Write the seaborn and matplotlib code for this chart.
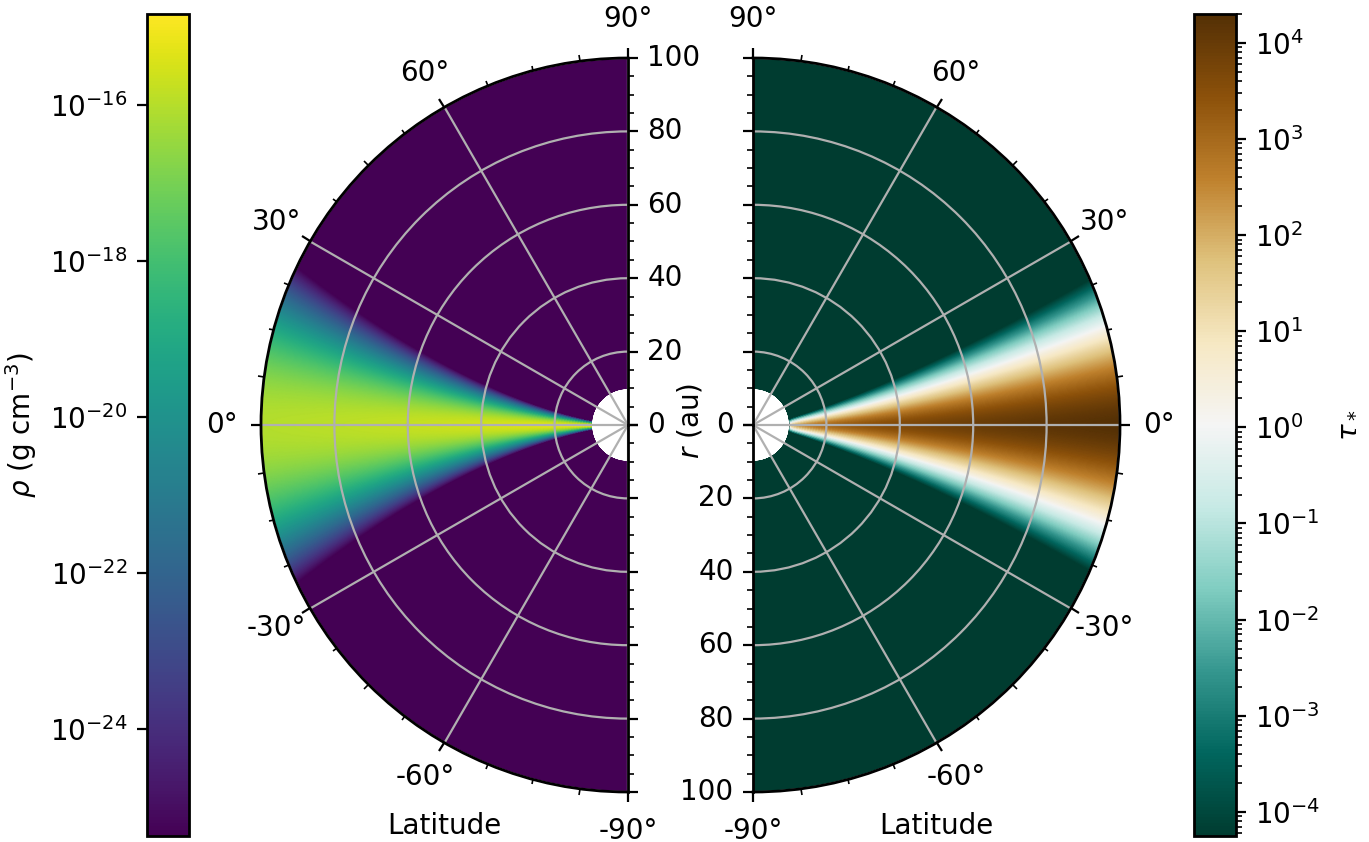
import numpy as np
import matplotlib
matplotlib.use("Agg")
import matplotlib.pyplot as plt
import seaborn as sns
from matplotlib.colors import LogNorm
from matplotlib.ticker import MultipleLocator

# ---------------- data ----------------
r_inner_au = 10.0
r_outer_au = 100.0
radial_ticks_au = [0, 20, 40, 60, 80, 100]
latitude_ticks_deg = [-90, -60, -30, 0, 30, 60, 90]

# density model (left panel)
rho_mid_100au = 9.3e-17        # g cm^-3, midplane density at 100 au
rho_radial_index = 1.2         # rho_mid ~ r^-index
aspect_ratio_100au = 0.073     # H/R at 100 au
flaring_index = 0.6            # H/R ~ r^flaring
rho_floor = 4.3e-26            # background density

# optical depth model (right panel)
tau_mid_100au = 2.0e4
tau_radial_index = 1.4
tau_width_100au = 0.1135
tau_width_index = 0.25
tau_profile_power = 1.6
tau_floor = 5.6e-5

radius_grid_au = np.linspace(r_inner_au, r_outer_au, 451)
latitude_grid_deg = np.linspace(-90, 90, 1441)

# ---------------- fields ----------------
LAT, R = np.meshgrid(latitude_grid_deg, radius_grid_au)
tan_lat = np.tan(np.deg2rad(np.clip(np.abs(LAT), 0, 89.0)))

h = aspect_ratio_100au * (R / r_outer_au) ** flaring_index
log_rho = (np.log10(rho_mid_100au) - rho_radial_index * np.log10(R / r_outer_au)
           - tan_lat ** 2 / (2 * h ** 2 * np.log(10)))
rho = np.maximum(10 ** log_rho, rho_floor)

with np.errstate(divide="ignore"):
    w = tau_width_100au * (R / r_outer_au) ** tau_width_index
    log_tau = (np.log10(tau_mid_100au)
               + tau_radial_index * np.log10((R - r_inner_au) / (r_outer_au - r_inner_au))
               - (tan_lat / w) ** tau_profile_power)
tau = np.maximum(10 ** log_tau, tau_floor)

# ---------------- figure ----------------
plt.rcParams.update({"font.size": 10, "font.family": ["DejaVu Sans"],
                     "axes.linewidth": 1.0, "axes.edgecolor": "black"})
W, H = 1369, 842
fig = plt.figure(figsize=(W / 200, H / 200), dpi=200)

cmap_rho = sns.color_palette("viridis", as_cmap=True)
cmap_tau = sns.color_palette("BrBG_r", as_cmap=True)

wedge_px = 734
axL = fig.add_axes([(444.5 - 367) / W, 50 / H, wedge_px / W, wedge_px / H], projection="polar")
axR = fig.add_axes([(936.5 - 367) / W, 50 / H, wedge_px / W, wedge_px / H], projection="polar")

axL.set_theta_zero_location("W")
axL.set_theta_direction(-1)
axR.set_theta_zero_location("E")
axR.set_theta_direction(1)

meshL = axL.pcolormesh(np.deg2rad(LAT), R, rho, cmap=cmap_rho,
                       norm=LogNorm(vmin=rho.min(), vmax=rho.max()),
                       shading="gouraud", rasterized=True)
meshR = axR.pcolormesh(np.deg2rad(LAT), R, tau, cmap=cmap_tau,
                       norm=LogNorm(vmin=tau.min(), vmax=tau.max()),
                       shading="gouraud", rasterized=True)

for ax in (axL, axR):
    ax.set_thetamin(-90)
    ax.set_thetamax(90)
    ax.set_rlim(0, r_outer_au)
    ax.set_thetagrids(latitude_ticks_deg)
    ax.set_rgrids(radial_ticks_au)
    ax.xaxis.set_minor_locator(MultipleLocator(np.deg2rad(7.5)))
    ax.yaxis.set_minor_locator(MultipleLocator(5))
    ax.grid(True, color="#b0b0b0", linewidth=0.8)
    ax.set_axisbelow("line")
    # theta ticks on the outer arc (tick2), radial ticks on both straight edges
    ax.tick_params(axis="x", which="both", top=True, bottom=False)
    ax.tick_params(axis="y", which="both", left=True, right=True)
    ax.tick_params(axis="both", which="major", length=3.5, width=0.8,
                   direction="out", color="black")
    ax.tick_params(axis="both", which="minor", length=2.0, width=0.6,
                   direction="out", color="black")
    for sp in ax.spines.values():
        sp.set_linewidth(1.0)
        sp.set_edgecolor("black")
        sp.set_zorder(3)

axL.tick_params(axis="y", labelleft=False, labelright=True)

fig.text(444.5 / W, 1 - 826 / H, "Latitude", ha="center", va="center", fontsize=10)
fig.text(936.5 / W, 1 - 826 / H, "Latitude", ha="center", va="center", fontsize=10)
fig.text(690.5 / W, 0.5, "$r$ (au)", ha="center", va="center", rotation=90, fontsize=10)

caxL = fig.add_axes([147 / W, 6 / H, 42 / W, 822 / H])
caxR = fig.add_axes([1194 / W, 6 / H, 42 / W, 822 / H])
cbL = fig.colorbar(meshL, cax=caxL)
caxL.yaxis.set_ticks_position("left")
caxL.yaxis.set_label_position("left")
cbL.set_label(r"$\rho$ (g cm$^{-3}$)")
cbR = fig.colorbar(meshR, cax=caxR)
cbR.set_label(r"$\tau_*$")
for cb in (cbL, cbR):
    cb.outline.set_linewidth(1.0)

fig.savefig("out.png", dpi=200)
